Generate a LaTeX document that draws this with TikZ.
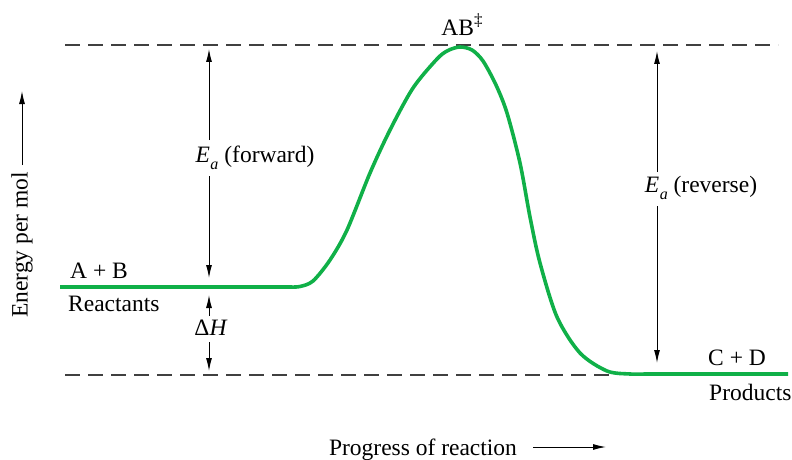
\documentclass[tikz,border=0pt]{standalone}
\usepackage{fontspec}
\setmainfont{Liberation Serif}
\usetikzlibrary{arrows.meta}
\definecolor{curvegreen}{RGB}{16,176,72}
\newcommand{\Eact}{\textit{E}\kern0.5pt\raisebox{-0.28em}{\fontsize{16}{16}\selectfont\textit{a}}}
\begin{document}
\begin{tikzpicture}[x=1pt,y=-1pt,
  lbl/.style={font=\fontsize{23.5}{27}\selectfont, inner sep=0pt},
  dashline/.style={line width=1.2pt, dash pattern=on 15pt off 8pt, black!75},
  arr/.style={line width=1pt, -{Latex[length=13pt,width=6pt]}},
  curve/.style={line width=3.6pt, curvegreen}]
\useasboundingbox (0,0) rectangle (792,460);
% dashed levels
\coordinate (tl) at (65,45); \coordinate (tr) at (778,45);
\coordinate (bl) at (65,375); \coordinate (br) at (612,375);
\draw[dashline] (tl) -- (tr);
\draw[dashline] (bl) -- (br);
% curve
\draw[curve] (60,287) -- (290,287)
  plot[smooth, tension=0.5] coordinates {(290,287) (300,286.5) (313,281) (330,260) (347,230) (370,173) (390,130) (413,88) (437,59) (448,50.5) (460,47) (472,50) (483,61) (496,85) (507,113) (520,163) (530,217) (540,263) (557,317) (580,353) (607,371) (630,374) (645,374)}
  -- (788,374);
% labels
\node[lbl, anchor=base west] (ab) at (70,278) {A + B};
\node[lbl, anchor=base west] (react) at (68,311) {Reactants};
\node[lbl, anchor=base west] (cd) at (708,365) {C + D};
\node[lbl, anchor=base west] (prod) at (709,400) {Products};
\node[lbl, anchor=base] (ts) at (462,36) {AB\raisebox{0.45em}{\fontsize{17}{17}\selectfont ‡}};
% forward Ea
\node[lbl] (eaf) at (255,158) {\Eact\ (forward)};
\coordinate (f1) at (209,140); \coordinate (f1t) at (209,49);
\coordinate (f2) at (209,176); \coordinate (f2t) at (209,278);
\draw[arr] (f1) -- (f1t);
\draw[arr] (f2) -- (f2t);
% Delta H
\node[lbl] (dh) at (211,328) {Δ\textit{H}};
\coordinate (h1) at (209,316); \coordinate (h1t) at (209,295);
\coordinate (h2) at (209,342); \coordinate (h2t) at (209,371);
\draw[arr] (h1) -- (h1t);
\draw[arr] (h2) -- (h2t);
% reverse Ea
\node[lbl] (ear) at (701,188) {\Eact\ (reverse)};
\coordinate (r1) at (657,172); \coordinate (r1t) at (657,51);
\coordinate (r2) at (657,206); \coordinate (r2t) at (657,363);
\draw[arr] (r1) -- (r1t);
\draw[arr] (r2) -- (r2t);
% axes labels
\node[lbl, rotate=90] (ey) at (22,245) {Energy per mol};
\coordinate (ya) at (22,165); \coordinate (yb) at (22,91);
\draw[arr] (ya) -- (yb);
\node[lbl, anchor=base] (px) at (423,455) {Progress of reaction};
\coordinate (xa) at (533,447); \coordinate (xb) at (606,447);
\draw[arr] (xa) -- (xb);
\end{tikzpicture}
\end{document}
